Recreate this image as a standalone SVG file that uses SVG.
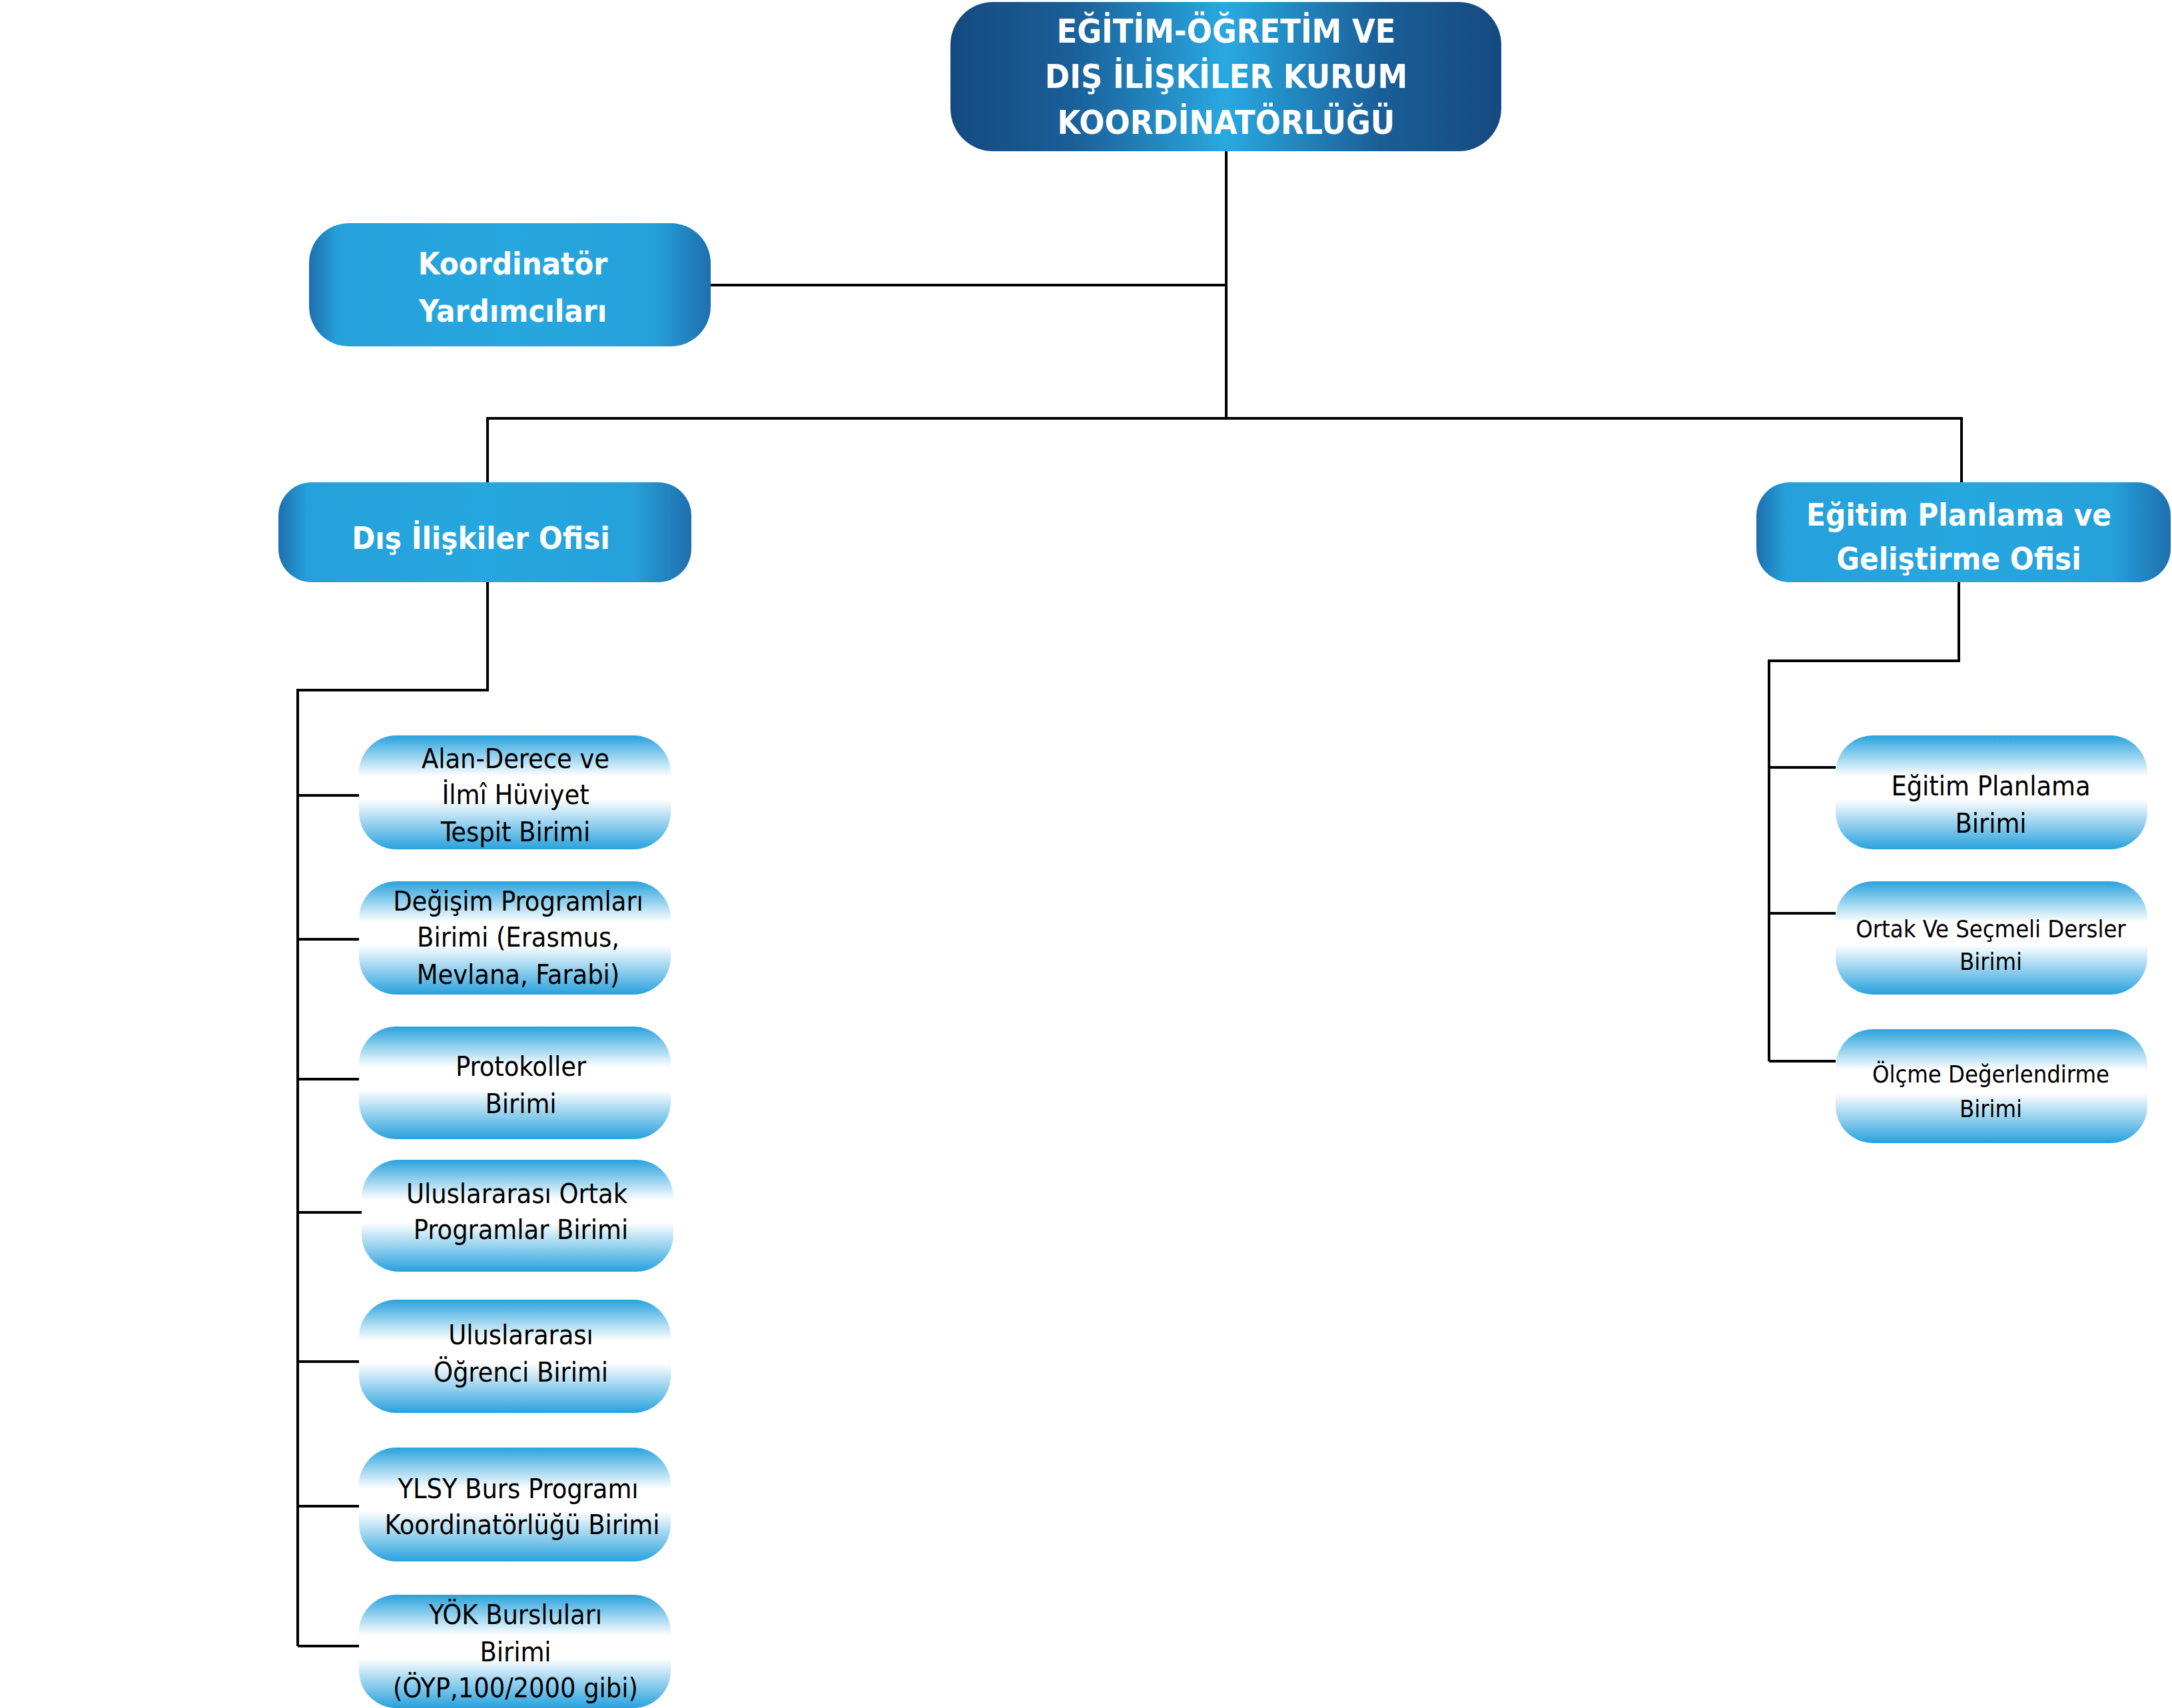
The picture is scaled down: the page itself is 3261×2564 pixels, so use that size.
<svg xmlns="http://www.w3.org/2000/svg" width="3261" height="2564" viewBox="0 0 3261 2564">
<style>
.t{font-family:"DejaVu Sans Condensed","DejaVu Sans","Liberation Sans",sans-serif;font-stretch:condensed;text-anchor:middle}
.top{font-size:50px;font-weight:bold;fill:#ffffff}
.mid{font-size:47px;font-weight:bold;fill:#ffffff}
.ch{font-size:41px;fill:#000000}
.chs{font-size:36px;fill:#000000}
.ln{fill:none;stroke:#000000;stroke-width:4}
</style>
<defs>
<linearGradient id="gTop" x1="0" y1="0" x2="1" y2="0">
<stop offset="0" stop-color="#154a80"/>
<stop offset="0.22" stop-color="#1a5e98"/>
<stop offset="0.5" stop-color="#29a9e1"/>
<stop offset="0.78" stop-color="#1a5e98"/>
<stop offset="1" stop-color="#154a80"/>
</linearGradient>
<linearGradient id="gMid" x1="0" y1="0" x2="1" y2="0">
<stop offset="0" stop-color="#1e6fae"/>
<stop offset="0.07" stop-color="#25a0da"/>
<stop offset="0.5" stop-color="#27a7df"/>
<stop offset="0.86" stop-color="#25a1da"/>
<stop offset="1" stop-color="#1f6fad"/>
</linearGradient>
<linearGradient id="gCh" x1="0" y1="0" x2="0" y2="1">
<stop offset="0" stop-color="#29a2dd"/>
<stop offset="0.36" stop-color="#ffffff"/>
<stop offset="0.56" stop-color="#ffffff"/>
<stop offset="1" stop-color="#28a1dd"/>
</linearGradient>
</defs>
<rect width="3261" height="2564" fill="#ffffff"/>
<g id="connectors">
<path class="ln" d="M1841 227 V630"/>
<path class="ln" d="M1067 428 H1841"/>
<path class="ln" d="M732 724 V628 H2945 V724"/>
<path class="ln" d="M732 874 V1036 H447 V2471"/>
<path class="ln" d="M447 1194 H539 M447 1410 H539 M447 1620 H539 M447 1820 H543 M447 2044 H539 M447 2261 H539 M447 2471 H539"/>
<path class="ln" d="M2941 874 V992 H2656 V1593"/>
<path class="ln" d="M2656 1152 H2756 M2656 1371 H2756 M2656 1593 H2756"/>
</g>
<g id="n-top">
<rect x="1427" y="3" width="827" height="224" rx="64" fill="url(#gTop)"/>
<text class="t top" x="1841" y="64">EĞİTİM-ÖĞRETİM VE</text>
<text class="t top" x="1841" y="132">DIŞ İLİŞKİLER KURUM</text>
<text class="t top" x="1841" y="201">KOORDİNATÖRLÜĞÜ</text>
</g>
<g id="n-yard">
<rect x="464" y="335" width="603" height="185" rx="60" fill="url(#gMid)"/>
<text class="t mid" x="770" y="412">Koordinatör</text>
<text class="t mid" x="770" y="483">Yardımcıları</text>
</g>
<g id="n-dis">
<rect x="418" y="724" width="620" height="150" rx="50" fill="url(#gMid)"/>
<text class="t mid" x="722" y="824">Dış İlişkiler Ofisi</text>
</g>
<g id="n-egitim">
<rect x="2637" y="724" width="622" height="150" rx="50" fill="url(#gMid)"/>
<text class="t mid" x="2941" y="789">Eğitim Planlama ve</text>
<text class="t mid" x="2941" y="855">Geliştirme Ofisi</text>
</g>
<g id="c1">
<rect x="539" y="1104" width="468" height="171" rx="56" fill="url(#gCh)"/>
<text class="t ch" x="774" y="1153">Alan-Derece ve</text>
<text class="t ch" x="774" y="1207">İlmî Hüviyet</text>
<text class="t ch" x="774" y="1263">Tespit Birimi</text>
</g>
<g id="c2">
<rect x="539" y="1323" width="468" height="170" rx="56" fill="url(#gCh)"/>
<text class="t ch" x="778" y="1367">Değişim Programları</text>
<text class="t ch" x="778" y="1421">Birimi (Erasmus,</text>
<text class="t ch" x="778" y="1477">Mevlana, Farabi)</text>
</g>
<g id="c3">
<rect x="539" y="1541" width="468" height="169" rx="56" fill="url(#gCh)"/>
<text class="t ch" x="782" y="1615">Protokoller</text>
<text class="t ch" x="782" y="1671">Birimi</text>
</g>
<g id="c4">
<rect x="543" y="1741" width="468" height="168" rx="56" fill="url(#gCh)"/>
<text class="t ch" x="776" y="1806">Uluslararası Ortak</text>
<text class="t ch" x="782" y="1860">Programlar Birimi</text>
</g>
<g id="c5">
<rect x="539" y="1951" width="468" height="170" rx="56" fill="url(#gCh)"/>
<text class="t ch" x="782" y="2018">Uluslararası</text>
<text class="t ch" x="782" y="2074">Öğrenci Birimi</text>
</g>
<g id="c6">
<rect x="539" y="2173" width="468" height="171" rx="56" fill="url(#gCh)"/>
<text class="t ch" x="778" y="2249">YLSY Burs Programı</text>
<text class="t ch" x="784" y="2303">Koordinatörlüğü Birimi</text>
</g>
<g id="c7">
<rect x="539" y="2394" width="468" height="170" rx="56" fill="url(#gCh)"/>
<text class="t ch" x="774" y="2438">YÖK Bursluları</text>
<text class="t ch" x="774" y="2494">Birimi</text>
<text class="t ch" x="774" y="2548">(ÖYP,100/2000 gibi)</text>
</g>
<g id="r1">
<rect x="2756" y="1104" width="468" height="171" rx="56" fill="url(#gCh)"/>
<text class="t ch" x="2989" y="1194">Eğitim Planlama</text>
<text class="t ch" x="2989" y="1250">Birimi</text>
</g>
<g id="r2">
<rect x="2756" y="1323" width="468" height="170" rx="56" fill="url(#gCh)"/>
<text class="t chs" x="2989" y="1407">Ortak Ve Seçmeli Dersler</text>
<text class="t chs" x="2989" y="1456">Birimi</text>
</g>
<g id="r3">
<rect x="2756" y="1545" width="468" height="171" rx="56" fill="url(#gCh)"/>
<text class="t chs" x="2989" y="1625">Ölçme Değerlendirme</text>
<text class="t chs" x="2989" y="1677">Birimi</text>
</g>
</svg>
